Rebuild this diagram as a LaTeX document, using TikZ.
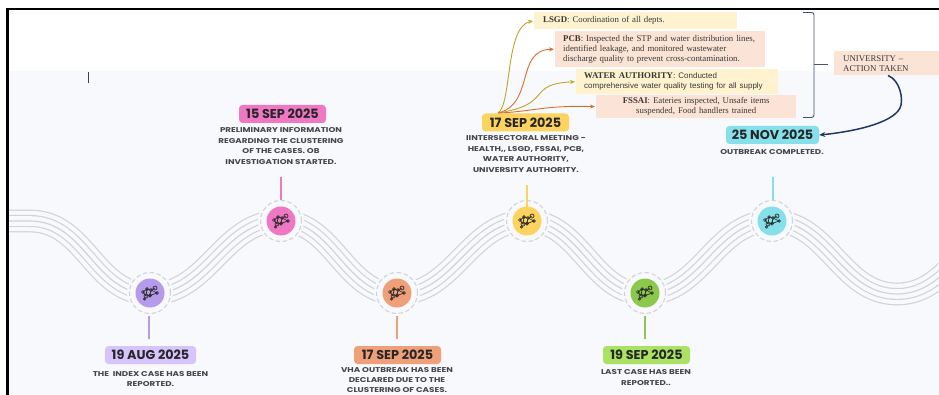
\documentclass[tikz,border=0pt]{standalone}
\usepackage{fontspec}
\setmainfont{Liberation Serif}
\newfontfamily\popfont{Poppins}
\newfontfamily\descfont{Poppins}[FakeStretch=1.25]
\newfontfamily\sansfont{Liberation Sans}
\usetikzlibrary{arrows.meta}
\definecolor{bgpale}{HTML}{F8F9FD}
\definecolor{strand}{HTML}{D2D3D7}
\definecolor{boxyel}{HTML}{FEF2CF}
\definecolor{boxpea}{HTML}{FBE3D6}
\definecolor{navy}{HTML}{1F3864}
\definecolor{slatec}{HTML}{44546A}
\definecolor{goldc}{HTML}{C0A526}
\definecolor{orac}{HTML}{D9702A}
\definecolor{cpur}{HTML}{B69AEC}
\definecolor{cpin}{HTML}{EF78C4}
\definecolor{cora}{HTML}{EFA078}
\definecolor{cyel}{HTML}{FBD35E}
\definecolor{cgre}{HTML}{8CC84B}
\definecolor{ccya}{HTML}{86E0EA}
\definecolor{lpur}{HTML}{D8C4FC}
\definecolor{lgre}{HTML}{ABE263}
\definecolor{inktext}{HTML}{45454B}
\tikzset{
  datebox/.style={fill=#1,rounded corners=3.5pt,minimum width=87pt,minimum height=18pt,inner sep=0pt,
    font=\popfont\bfseries\fontsize{12.8}{14}\selectfont,text=black!85},
  desc/.style={align=center,inner sep=0pt,text=inktext,
    font=\descfont\bfseries\fontsize{7}{10.4}\selectfont},
  disc/.style={circle,fill=#1,minimum size=29pt,inner sep=0pt},
  halo/.style={circle,draw=strand,dashed,dash pattern=on 4.5pt off 2.5pt,line width=1.1pt,fill=bgpale,minimum size=41pt,inner sep=0pt},
  stem/.style={line width=2.6pt,draw=#1},
  notebox/.style={fill=#1,anchor=north west,inner sep=0pt,align=left,text=black!78,
    font=\fontsize{8.8}{10}\selectfont},
  feed/.style={draw=#1,line width=0.9pt,-{Stealth[length=5pt,width=4pt]},shorten >=1pt},
  molecule/.pic={
    \draw[line width=0.65pt,black!85]
      (-7,-1)--(-4,3)--(0,2.5)--(1,-3)--(-3,-4)--(-7,-1)
      (-4,3)--(-3,-4) (0,2.5)--(7,0) (1,-3)--(7,0) (1,-3)--(5,-5);
    \foreach \cx/\cy/\cr in {-7/-1/1.5,-4/3/2,0/2.5/1.7,1/-3/1.5,-3/-4/1.3,7/0/1.3,5/-5/2,-5.5/6/1.2}
      \draw[line width=0.65pt,black!85] (\cx,\cy) circle (\cr pt);
  }
}
\newcommand{\wavepath}{(9,221) .. controls (15,221) and (18,221) .. (30,221)
  .. controls (86,221) and (94,294) .. (150,294)
  .. controls (209,294) and (222,221) .. (281,221)
  .. controls (333,221) and (345,294) .. (397,294)
  .. controls (455,294) and (469,221) .. (527,221)
  .. controls (580,221) and (592,294) .. (645,294)
  .. controls (702,294) and (715,221) .. (772,221)
  .. controls (828,221) and (841,294) .. (897,294)
  .. controls (953,294) and (966,221) .. (1022,221)}
\begin{document}
\begin{tikzpicture}[x=1pt,y=-1pt]
\useasboundingbox (0,0) rectangle (939,395);
\fill[white] (0,0) rectangle (939,395);
\fill[bgpale] (8,71) rectangle (939,395);
% five parallel strands, as nested strokes
\begin{scope}
\clip (8,71) rectangle (939,395);
\foreach \wd/\col in {22.8/strand,20.4/bgpale,12/strand,9.6/bgpale,1.2/strand}
  \draw[line width=\wd pt,draw=\col] \wavepath;
\end{scope}
% frame
\draw[line width=2.6pt,black] (7.5,395) -- (7.5,9) -- (939,9);
\draw[line width=1pt,black!75] (88,72) -- (88,83);
% stations
\foreach \nm/\px/\py/\col in {a/150/293/cpur,b/281/221/cpin,c/397/293/cora,d/527/221/cyel,e/645/293/cgre,f/772/221/ccya}{
  \node[circle,fill=bgpale,minimum size=46pt,inner sep=0pt] (clear\nm) at (\px,\py) {};
  \node[halo] (ring\nm) at (\px,\py) {};
  \node[disc=\col] (dot\nm) at (\px,\py) {};
  \pic at (\px,\py) {molecule};
}
% date labels
\node[datebox=lpur,minimum width=91pt] (da) at (150.5,355) {19 AUG 2025};
\node[datebox=cpin] (db) at (282.5,114) {15 SEP 2025};
\node[datebox=cora] (dc) at (397.5,355) {17 SEP 2025};
\node[datebox=cyel] (dd) at (525.5,122.5) {17 SEP 2025};
\node[datebox=lgre] (de) at (646.5,355) {19 SEP 2025};
\node[datebox=ccya,minimum width=93pt] (df) at (772.5,135) {25 NOV 2025};
% stems
\coordinate (sa1) at (149,316); \coordinate (sa2) at (149,339);
\coordinate (sb1) at (281,177); \coordinate (sb2) at (281,200);
\coordinate (sc1) at (397,316); \coordinate (sc2) at (397,339);
\coordinate (sd1) at (527,185); \coordinate (sd2) at (527,208);
\coordinate (se1) at (645,316); \coordinate (se2) at (645,339);
\coordinate (sf1) at (773,177); \coordinate (sf2) at (773,200);
\draw[stem=cpur] (sa1) -- (sa2);
\draw[stem=cpin] (sb1) -- (sb2);
\draw[stem=cora] (sc1) -- (sc2);
\draw[stem=cyel] (sd1) -- (sd2);
\draw[stem=cgre] (se1) -- (se2);
\draw[stem=ccya] (sf1) -- (sf2);
% descriptions
\node[desc] (ta) at (150.5,379) {THE\ \ INDEX CASE HAS BEEN\\REPORTED.};
\node[desc] (tb) at (281,146) {PRELIMINARY INFORMATION\\REGARDING THE CLUSTERING\\OF THE CASES. OB\\INVESTIGATION STARTED.};
\node[desc] (tc) at (397,380) {VHA OUTBREAK HAS BEEN\\DECLARED DUE TO THE\\CLUSTERING OF CASES.};
\node[desc] (td) at (526,154) {IINTERSECTORAL MEETING -\\HEALTH,, LSGD, FSSAI, PCB,\\WATER AUTHORITY,\\UNIVERSITY AUTHORITY.};
\node[desc] (te) at (646,377.5) {LAST CASE HAS BEEN\\REPORTED..};
\node[desc] (tf) at (772,152.5) {OUTBREAK COMPLETED.};
% note boxes
\node[notebox=boxyel,minimum width=203pt,minimum height=17pt,text width=185pt] (lsgd) at (534,12)
  {\textbf{LSGD}: Coordination of all depts.};
\node[notebox=boxpea,minimum width=210pt,minimum height=36pt,text width=194pt] (pcb) at (555,31)
  {\textbf{PCB}: Inspected the STP and water distribution lines,\\identified leakage, and monitored wastewater\\discharge quality to prevent cross-contamination.};
\node[notebox=boxyel,minimum width=202pt,minimum height=25pt,text width=186pt] (water) at (576,69)
  {\textbf{WATER AUTHORITY}: {\sansfont\fontsize{8}{10}\selectfont Conducted\\comprehensive water quality testing for all supply}};
\node[notebox=boxpea,minimum width=200pt,minimum height=23pt,text width=200pt,align=center] (fssai) at (596,95)
  {\textbf{FSSAI}: Eateries inspected, Unsafe items\\suspended, Food handlers trained};
\node[notebox=boxpea,minimum width=105pt,minimum height=24pt,text width=87pt] (univ) at (834,51)
  {UNIVERSITY --\\ACTION TAKEN};
% bracket
\coordinate (brt) at (803,12.5); \coordinate (brb) at (803,117.5); \coordinate (brm) at (828,64.5);
\draw[draw=slatec,line width=0.9pt,rounded corners=2.5pt] (brt) -- (814,12.5) -- (814,117.5) -- (brb);
\draw[draw=slatec,line width=0.9pt] (814,64.5) -- (brm);
% feeders
\coordinate (src) at (498,113);
\draw[feed=goldc] (src) .. controls (512,104) and (505,27) .. (lsgd.west);
\draw[feed=orac] (src) .. controls (535,104) and (515,50) .. (pcb.west);
\draw[feed=goldc] (src) .. controls (555,104) and (525,84) .. (water.west);
\draw[feed=orac] (src) .. controls (530,112) and (545,105) .. (fssai.west);
% university arrow
\coordinate (uo) at (888,75.5);
\draw[draw=navy,line width=1.5pt,-{Stealth[length=6pt,width=5pt]}] (uo) .. controls (900,80) and (904,100) .. (900,108) .. controls (892,124) and (850,132) .. (df.east);
\end{tikzpicture}
\end{document}
